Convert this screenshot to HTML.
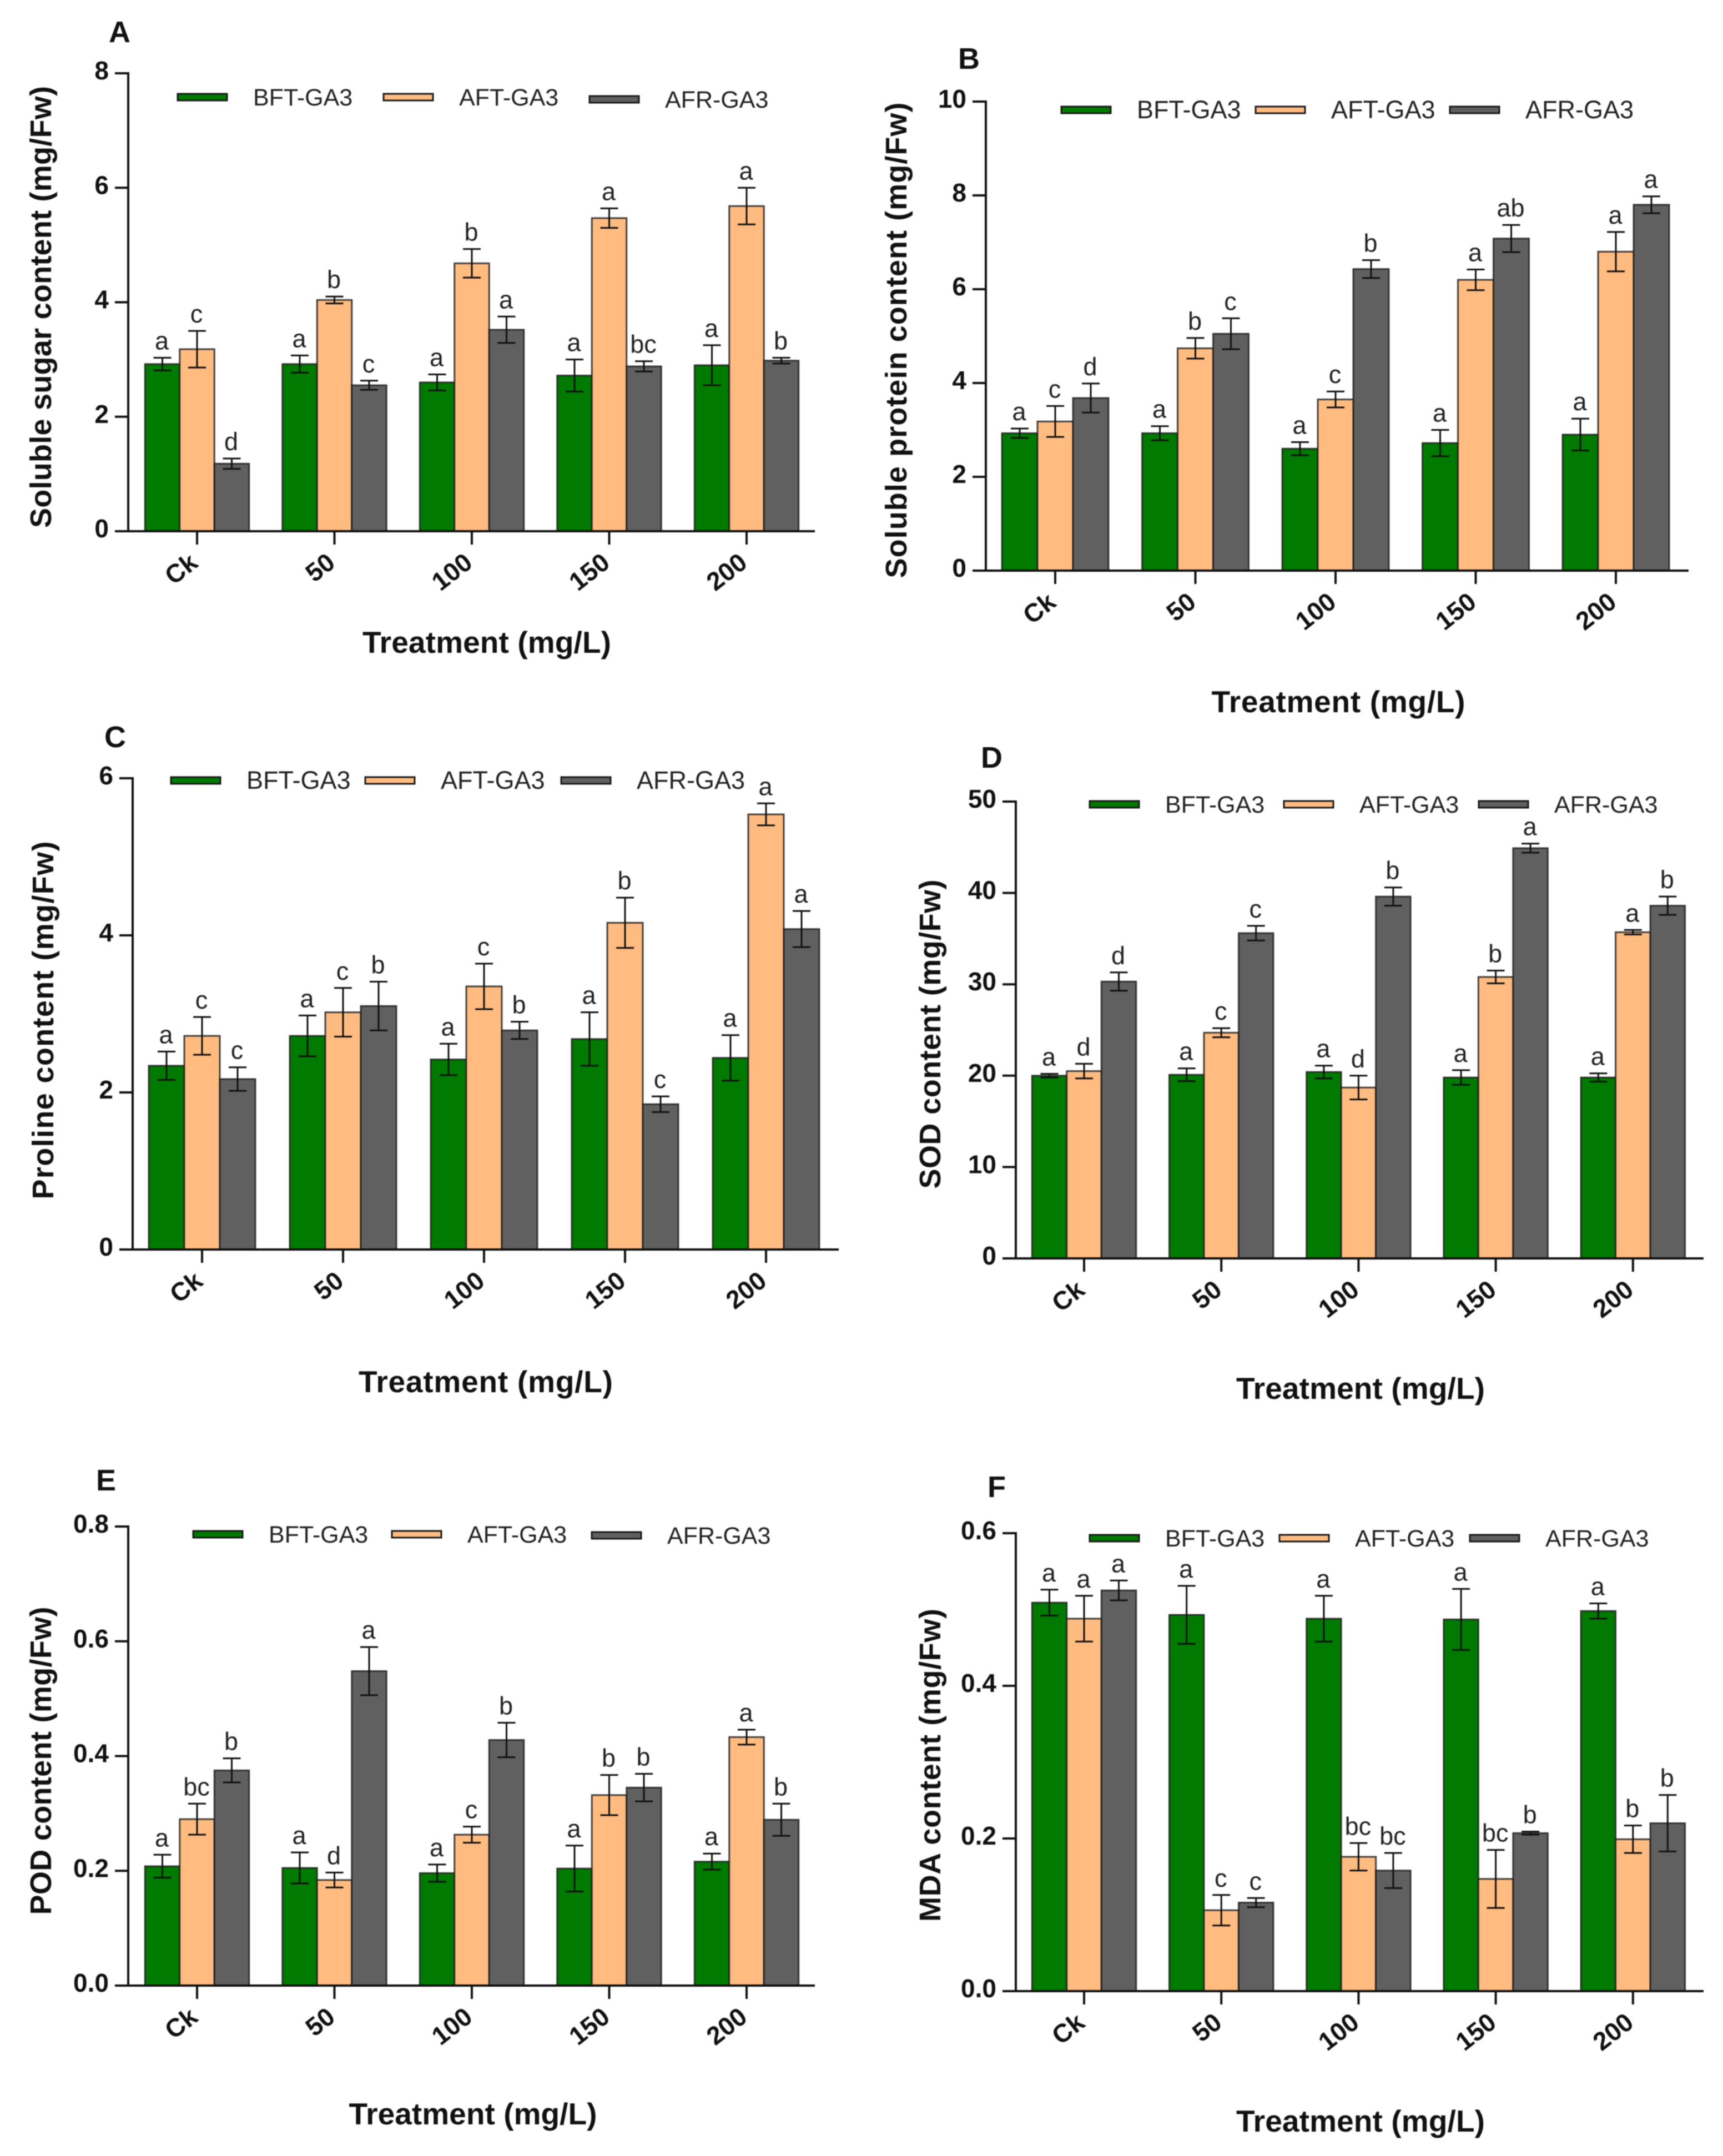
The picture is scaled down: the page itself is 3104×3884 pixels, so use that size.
<!DOCTYPE html>
<html>
<head>
<meta charset="utf-8">
<title>GA3 treatment bar charts</title>
<style>
html,body{margin:0;padding:0;background:#fff;width:3104px;height:3884px;overflow:hidden}
svg{display:block;filter:blur(0.7px)}
text{font-family:"Liberation Sans",sans-serif}
</style>
</head>
<body>
<svg id="figure" xmlns="http://www.w3.org/2000/svg" width="3104" height="3884" viewBox="0 0 3104 3884"></svg>
<script>
// Shared categories and series
const categories = ['Ck', '50', '100', '150', '200'];
const seriesNames = ['BFT-GA3', 'AFT-GA3', 'AFR-GA3'];

// Panel A: soluble sugar
const aTicks = ['0', '2', '4', '6', '8'];
const aBft = [2.92, 2.92, 2.6, 2.72, 2.9];
const aBftErr = [0.11, 0.15, 0.14, 0.28, 0.35];
const aAft = [3.18, 4.04, 4.68, 5.47, 5.68];
const aAftErr = [0.32, 0.06, 0.25, 0.17, 0.32];
const aAfr = [1.18, 2.55, 3.52, 2.88, 2.98];
const aAfrErr = [0.09, 0.08, 0.23, 0.09, 0.05];
const aBftSig = ['a', 'a', 'a', 'a', 'a'];
const aAftSig = ['c', 'b', 'b', 'a', 'a'];
const aAfrSig = ['d', 'c', 'a', 'bc', 'b'];

// Panel B: soluble protein
const bTicks = ['0', '2', '4', '6', '8', '10'];
const bBft = [2.93, 2.93, 2.6, 2.72, 2.9];
const bBftErr = [0.1, 0.15, 0.14, 0.28, 0.34];
const bAft = [3.18, 4.74, 3.65, 6.2, 6.8];
const bAftErr = [0.33, 0.22, 0.17, 0.22, 0.42];
const bAfr = [3.68, 5.05, 6.43, 7.08, 7.8];
const bAfrErr = [0.31, 0.33, 0.19, 0.29, 0.18];
const bBftSig = ['a', 'a', 'a', 'a', 'a'];
const bAftSig = ['c', 'b', 'c', 'a', 'a'];
const bAfrSig = ['d', 'c', 'b', 'ab', 'a'];

// Panel C: proline
const cTicks = ['0', '2', '4', '6'];
const cBft = [2.34, 2.72, 2.42, 2.68, 2.44];
const cBftErr = [0.18, 0.26, 0.2, 0.34, 0.29];
const cAft = [2.72, 3.02, 3.35, 4.16, 5.54];
const cAftErr = [0.24, 0.31, 0.29, 0.32, 0.14];
const cAfr = [2.17, 3.1, 2.79, 1.85, 4.08];
const cAfrErr = [0.15, 0.31, 0.11, 0.1, 0.23];
const cBftSig = ['a', 'a', 'a', 'a', 'a'];
const cAftSig = ['c', 'c', 'c', 'b', 'a'];
const cAfrSig = ['c', 'b', 'b', 'c', 'a'];

// Panel D: SOD
const dTicks = ['0', '10', '20', '30', '40', '50'];
const dBft = [20, 20.1, 20.4, 19.8, 19.8];
const dBftErr = [0.2, 0.7, 0.7, 0.8, 0.45];
const dAft = [20.5, 24.7, 18.7, 30.8, 35.7];
const dAftErr = [0.8, 0.5, 1.3, 0.7, 0.25];
const dAfr = [30.3, 35.6, 39.6, 44.9, 38.6];
const dAfrErr = [1, 0.8, 1, 0.5, 1];
const dBftSig = ['a', 'a', 'a', 'a', 'a'];
const dAftSig = ['d', 'c', 'd', 'b', 'a'];
const dAfrSig = ['d', 'c', 'b', 'a', 'b'];

// Panel E: POD
const eTicks = ['0.0', '0.2', '0.4', '0.6', '0.8'];
const eBft = [0.208, 0.205, 0.196, 0.204, 0.216];
const eBftErr = [0.02, 0.027, 0.015, 0.04, 0.014];
const eAft = [0.29, 0.184, 0.263, 0.332, 0.433];
const eAftErr = [0.027, 0.013, 0.014, 0.035, 0.013];
const eAfr = [0.375, 0.548, 0.428, 0.345, 0.289];
const eAfrErr = [0.021, 0.042, 0.03, 0.024, 0.028];
const eBftSig = ['a', 'a', 'a', 'a', 'a'];
const eAftSig = ['bc', 'd', 'c', 'b', 'a'];
const eAfrSig = ['b', 'a', 'b', 'b', 'b'];

// Panel F: MDA
const fTicks = ['0.0', '0.2', '0.4', '0.6'];
const fBft = [0.509, 0.493, 0.488, 0.487, 0.498];
const fBftErr = [0.017, 0.038, 0.03, 0.04, 0.01];
const fAft = [0.488, 0.106, 0.176, 0.147, 0.199];
const fAftErr = [0.03, 0.02, 0.018, 0.038, 0.018];
const fAfr = [0.525, 0.116, 0.158, 0.207, 0.22];
const fAfrErr = [0.013, 0.006, 0.023, 0.002, 0.037];
const fBftSig = ['a', 'a', 'a', 'a', 'a'];
const fAftSig = ['a', 'c', 'bc', 'bc', 'b'];
const fAfrSig = ['a', 'c', 'bc', 'b', 'b'];

const fills = ['#007a00', '#ffbb80', '#606060'];
const NS = 'http://www.w3.org/2000/svg';
const root = document.getElementById('figure');
const BAR_STROKE = '#1a1a1a';
const INK = '#111';

function make(tag, parent, attrs) {
  const el = document.createElementNS(NS, tag);
  for (const k in attrs) el.setAttribute(k, attrs[k]);
  parent.appendChild(el);
  return el;
}

function drawPanel(p) {
  const yMax = parseFloat(p.ticks[p.ticks.length - 1]);
  const yScale = v => p.y0 - (v / yMax) * (p.y0 - p.yTop);
  const groupScale = i => p.x0 + i * p.step;
  const barWidth = p.barW;

  const g = make('g', root, {});
  
  

  const letter = make('text', g, {x: p.letterX, y: p.letterY, 'font-size': 54, 'font-weight': 'bold', fill: INK});
  letter.textContent = p.id.toUpperCase();
  
  

  // Bars, error bars and significance letters
  p.values.forEach((series, s) => {
    series.forEach((v, i) => {
      const cx = groupScale(i) + (s - 1) * barWidth;
      const top = yScale(v);
      const bar = make('rect', g, {x: cx - barWidth / 2, y: top, width: barWidth, height: p.y0 - top, fill: fills[s], stroke: BAR_STROKE, 'stroke-opacity': 0.8, 'stroke-width': 3});
      
      
    });
  });
  p.values.forEach((series, s) => {
    series.forEach((v, i) => {
      const cx = groupScale(i) + (s - 1) * barWidth;
      const e = p.errors[s][i];
      const hi = yScale(v + e);
      const lo = yScale(v - e);
      const eb = make('path', g, {d: 'M' + cx + ' ' + hi + 'V' + lo + 'M' + (cx - 16) + ' ' + hi + 'H' + (cx + 16) + 'M' + (cx - 16) + ' ' + lo + 'H' + (cx + 16), stroke: INK, 'stroke-width': 3, fill: 'none'});
      
      
      const sig = make('text', g, {x: cx - 1, y: hi - 15, 'font-size': 45, 'text-anchor': 'middle', fill: '#222'});
      sig.textContent = p.sig[s][i];
      
      
    });
  });

  // Y axis
  const yAxis = make('line', g, {x1: p.axisX, x2: p.axisX, y1: p.yTop - 2, y2: p.y0 + 2, stroke: INK, 'stroke-width': 4});
  
  
  p.ticks.forEach(t => {
    const y = yScale(parseFloat(t));
    const tick = make('line', g, {x1: p.axisX - 24, x2: p.axisX, y1: y, y2: y, stroke: INK, 'stroke-width': 4});
    
    
    const lab = make('text', g, {x: p.axisX - 35, y: y + 11, 'font-size': 46, 'font-weight': 'bold', 'text-anchor': 'end', fill: INK});
    lab.textContent = t;
    
    
  });

  // X axis
  const xAxis = make('line', g, {x1: p.axisX - 24, x2: p.xEnd, y1: p.y0, y2: p.y0, stroke: INK, 'stroke-width': 4});
  
  
  categories.forEach((c, i) => {
    const x = groupScale(i);
    const tick = make('line', g, {x1: x, x2: x, y1: p.y0, y2: p.y0 + 24, stroke: INK, 'stroke-width': 4});
    
    
    const lx = x + 4;
    const ly = p.y0 + 62;
    const lab = make('text', g, {x: lx, y: ly, 'font-size': 46, 'font-weight': 'bold', 'text-anchor': 'end', fill: INK, transform: 'rotate(-38 ' + lx + ' ' + ly + ')'});
    lab.textContent = c;
    
    
  });

  // Axis titles
  const xTitle = make('text', g, {x: p.xTitleX, y: p.xTitleY, 'font-size': 55, 'font-weight': 'bold', 'text-anchor': 'middle', fill: INK, textLength: p.xTitleLen, lengthAdjust: 'spacing'});
  xTitle.textContent = 'Treatment (mg/L)';
  
  
  const yTitle = make('text', g, {x: p.yTitleX, y: p.yTitleY, 'font-size': 54, 'font-weight': 'bold', 'text-anchor': 'middle', fill: INK, textLength: p.yTitleLen, lengthAdjust: 'spacing', transform: 'rotate(-90 ' + p.yTitleX + ' ' + p.yTitleY + ')'});
  yTitle.textContent = p.yTitle;
  
  

  // Legend
  seriesNames.forEach((name, s) => {
    const sw = make('rect', g, {x: p.legendX[s], y: p.legendY[s] - 6, width: 89, height: 12, fill: fills[s], stroke: BAR_STROKE, 'stroke-width': 3});
    
    
    const lab = make('text', g, {x: p.legendX[s] + 136, y: p.legendY[s] + 15, 'font-size': p.legendFont, fill: '#222'});
    lab.textContent = name;
    
    
  });
}

drawPanel({
  id: 'a', yTitle: 'Soluble sugar content (mg/Fw)', ticks: aTicks,
  values: [aBft, aAft, aAfr], errors: [aBftErr, aAftErr, aAfrErr], sig: [aBftSig, aAftSig, aAfrSig],
  axisX: 231, xEnd: 1468, y0: 957, yTop: 132, x0: 355, step: 247.5, barW: 62.5,
  letterX: 196, letterY: 76, xTitleX: 877, xTitleY: 1176, xTitleLen: 448, yTitleX: 92, yTitleY: 553, yTitleLen: 796,
  legendX: [320, 691, 1062], legendY: [175, 175, 179], legendFont: 43
});
drawPanel({
  id: 'b', yTitle: 'Soluble protein content (mg/Fw)', ticks: bTicks,
  values: [bBft, bAft, bAfr], errors: [bBftErr, bAftErr, bAfrErr], sig: [bBftSig, bAftSig, bAfrSig],
  axisX: 1776, xEnd: 3042, y0: 1028, yTop: 183, x0: 1901, step: 252.5, barW: 64,
  letterX: 1726, letterY: 124, xTitleX: 2411, xTitleY: 1283, xTitleLen: 457, yTitleX: 1633, yTitleY: 613, yTitleLen: 857,
  legendX: [1912, 2262, 2612], legendY: [198, 198, 198], legendFont: 45
});
drawPanel({
  id: 'c', yTitle: 'Proline content (mg/Fw)', ticks: cTicks,
  values: [cBft, cAft, cAfr], errors: [cBftErr, cAftErr, cAfrErr], sig: [cBftSig, cAftSig, cAfrSig],
  axisX: 239, xEnd: 1511, y0: 2251, yTop: 1402, x0: 364, step: 254, barW: 64,
  letterX: 188, letterY: 1346, xTitleX: 875, xTitleY: 2508, xTitleLen: 458, yTitleX: 96, yTitleY: 1838, yTitleLen: 645,
  legendX: [308, 658, 1011], legendY: [1406, 1406, 1406], legendFont: 45
});
drawPanel({
  id: 'd', yTitle: 'SOD content (mg/Fw)', ticks: dTicks,
  values: [dBft, dAft, dAfr], errors: [dBftErr, dAftErr, dAfrErr], sig: [dBftSig, dAftSig, dAfrSig],
  axisX: 1830, xEnd: 3069, y0: 2267, yTop: 1444, x0: 1953, step: 247.2, barW: 62.5,
  letterX: 1767, letterY: 1383, xTitleX: 2451, xTitleY: 2520, xTitleLen: 448, yTitleX: 1694, yTitleY: 1863, yTitleLen: 557,
  legendX: [1963, 2313, 2664], legendY: [1449, 1449, 1449], legendFont: 43
});
drawPanel({
  id: 'e', yTitle: 'POD content (mg/Fw)', ticks: eTicks,
  values: [eBft, eAft, eAfr], errors: [eBftErr, eAftErr, eAfrErr], sig: [eBftSig, eAftSig, eAfrSig],
  axisX: 231, xEnd: 1468, y0: 3577, yTop: 2750, x0: 355, step: 247.5, barW: 62.5,
  letterX: 173, letterY: 2685, xTitleX: 852, xTitleY: 3827, xTitleLen: 447, yTitleX: 92, yTitleY: 3172, yTitleLen: 555,
  legendX: [348, 706, 1066], legendY: [2764, 2764, 2766], legendFont: 43
});
drawPanel({
  id: 'f', yTitle: 'MDA content (mg/Fw)', ticks: fTicks,
  values: [fBft, fAft, fAfr], errors: [fBftErr, fAftErr, fAfrErr], sig: [fBftSig, fAftSig, fAfrSig],
  axisX: 1830, xEnd: 3069, y0: 3587, yTop: 2762, x0: 1953, step: 247.2, barW: 62.5,
  letterX: 1779, letterY: 2697, xTitleX: 2451, xTitleY: 3840, xTitleLen: 448, yTitleX: 1694, yTitleY: 3180, yTitleLen: 564,
  legendX: [1963, 2305, 2648], legendY: [2771, 2771, 2771], legendFont: 43
});
</script>
</body>
</html>
